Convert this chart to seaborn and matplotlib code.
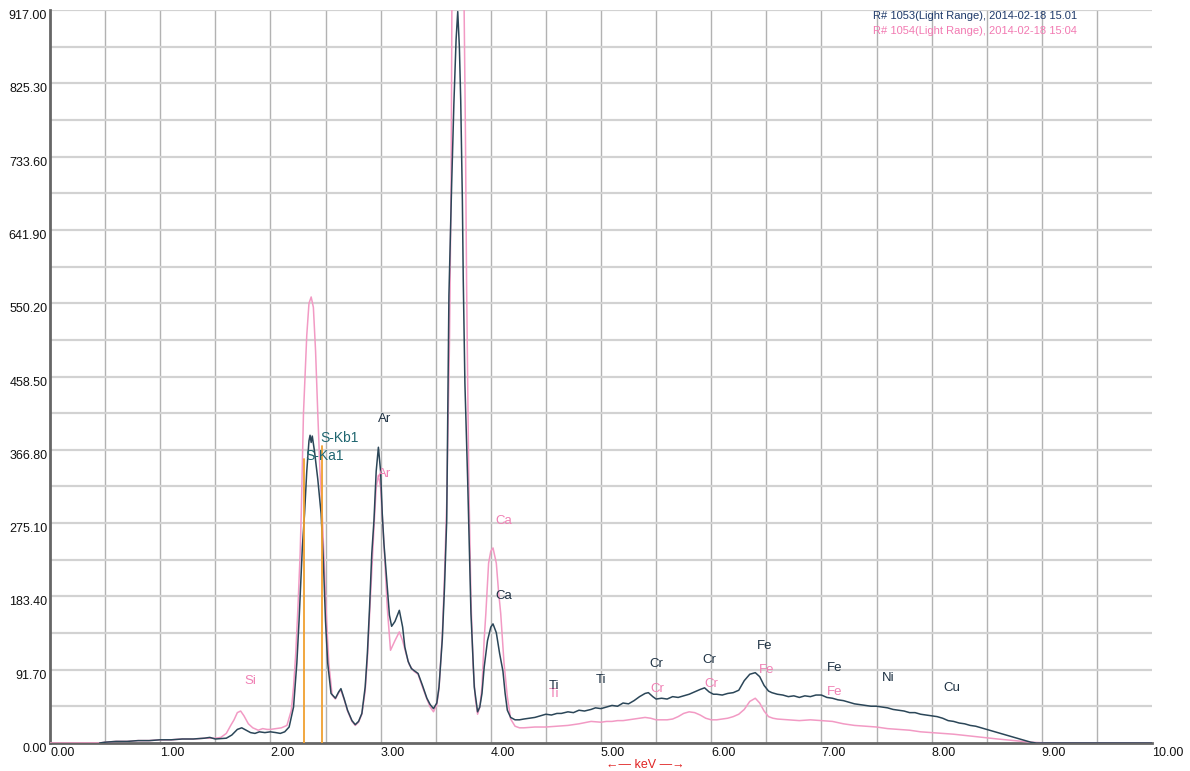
import matplotlib
matplotlib.use("Agg")
import matplotlib.pyplot as plt
import numpy as np
import pandas as pd
import seaborn as sns

# spectrum R# 1053 (dark)
dark_kev = [0.45, 0.50, 0.60, 0.70, 0.80, 0.90, 1.00, 1.10, 1.20, 1.30, 1.40, 1.45, 1.50, 1.60,
            1.65, 1.70, 1.74, 1.78, 1.82, 1.86, 1.90, 1.95, 2.00, 2.05, 2.09, 2.13, 2.17, 2.21,
            2.24, 2.26, 2.29, 2.31, 2.33, 2.35, 2.36, 2.37, 2.38, 2.40, 2.43, 2.46, 2.48, 2.50,
            2.52, 2.55, 2.59, 2.62, 2.64, 2.67, 2.70, 2.74, 2.77, 2.80, 2.83, 2.86, 2.88, 2.90,
            2.92, 2.94, 2.96, 2.98, 3.00, 3.015, 3.03, 3.06, 3.08, 3.10, 3.13, 3.17, 3.20, 3.22,
            3.25, 3.28, 3.31, 3.34, 3.38, 3.42, 3.45, 3.48, 3.51, 3.53, 3.56, 3.58, 3.60, 3.62,
            3.645, 3.665, 3.685, 3.70, 3.715, 3.727, 3.742, 3.75, 3.765, 3.79, 3.82, 3.85, 3.88,
            3.90, 3.92, 3.94, 3.97, 4.00, 4.02, 4.05, 4.08, 4.11, 4.13, 4.15, 4.18, 4.22, 4.26,
            4.30, 4.35, 4.40, 4.45, 4.50, 4.55, 4.60, 4.64, 4.70, 4.75, 4.80, 4.85, 4.91, 4.95,
            5.00, 5.05, 5.10, 5.15, 5.20, 5.25, 5.30, 5.35, 5.40, 5.43, 5.47, 5.50, 5.55, 5.60,
            5.65, 5.70, 5.75, 5.80, 5.85, 5.90, 5.94, 5.98, 6.02, 6.05, 6.10, 6.15, 6.20, 6.25,
            6.30, 6.35, 6.40, 6.44, 6.48, 6.52, 6.55, 6.60, 6.65, 6.70, 6.75, 6.80, 6.85, 6.90,
            6.95, 7.00, 7.05, 7.10, 7.15, 7.20, 7.25, 7.30, 7.35, 7.40, 7.45, 7.50, 7.55, 7.60,
            7.65, 7.70, 7.75, 7.80, 7.85, 7.90, 7.95, 8.00, 8.05, 8.10, 8.15, 8.20, 8.25, 8.30,
            8.35, 8.40, 8.45, 8.50, 8.55, 8.60, 8.65, 8.70, 8.75, 8.80, 8.85, 8.90, 8.95, 9.10,
            10.00]
dark_counts = [0, 1, 2, 2, 3, 3, 4, 4, 5, 5, 6, 7, 5, 6,
               10, 17, 19, 16, 13, 12, 14, 13, 14, 13, 12, 14, 20, 45,
               100, 153, 245, 287, 340, 378, 385, 376, 384, 365, 330, 287, 230, 153,
               100, 62, 56, 64, 68, 55, 41, 28, 23, 27, 37, 70, 112, 170,
               237, 279, 340, 370, 340, 287, 250, 195, 160, 146, 152, 166, 145, 120,
               102, 93, 90, 87, 72, 56, 48, 43, 50, 70, 130, 195, 279, 560,
               700, 800, 880, 915, 870, 804, 679, 580, 450, 329, 162, 70, 39,
               45, 62, 95, 128, 145, 149, 138, 112, 90, 62, 41, 32, 29, 29,
               30, 31, 32, 34, 36, 35, 37, 37, 39, 38, 41, 40, 42, 44,
               43, 45, 47, 46, 50, 49, 53, 58, 62, 63, 58, 55, 56, 55,
               58, 57, 59, 61, 64, 67, 69, 64, 61, 61, 60, 62, 63, 66,
               78, 86, 88, 83, 72, 65, 63, 61, 60, 58, 59, 57, 59, 58,
               60, 60, 57, 56, 54, 53, 51, 49, 48, 47, 46, 46, 45, 44,
               42, 41, 40, 38, 38, 36, 35, 34, 33, 31, 28, 27, 25, 24,
               22, 21, 19, 17, 15, 13, 11, 9, 7, 5, 3, 1, 0, 0,
               0]

# spectrum R# 1054 (pink)
pink_kev = [0.00, 0.45, 0.50, 0.60, 0.70, 0.80, 0.90, 1.00, 1.10, 1.20, 1.30, 1.40, 1.50, 1.55,
            1.60, 1.64, 1.67, 1.70, 1.73, 1.76, 1.80, 1.84, 1.89, 1.93, 1.97, 2.00, 2.05, 2.10,
            2.15, 2.19, 2.21, 2.23, 2.25, 2.27, 2.28, 2.30, 2.33, 2.35, 2.37, 2.39, 2.41, 2.43,
            2.45, 2.47, 2.49, 2.51, 2.53, 2.56, 2.59, 2.62, 2.64, 2.67, 2.70, 2.74, 2.77, 2.80,
            2.83, 2.86, 2.88, 2.90, 2.92, 2.94, 2.96, 2.98, 3.00, 3.03, 3.06, 3.09, 3.13, 3.17,
            3.20, 3.23, 3.26, 3.30, 3.34, 3.38, 3.42, 3.45, 3.48, 3.51, 3.53, 3.56, 3.58, 3.60,
            3.625, 3.64, 3.647, 3.67, 3.70, 3.73, 3.757, 3.77, 3.78, 3.80, 3.82, 3.84, 3.86, 3.88,
            3.90, 3.92, 3.94, 3.955, 3.98, 4.00, 4.02, 4.05, 4.07, 4.09, 4.12, 4.15, 4.18, 4.22,
            4.26, 4.30, 4.40, 4.50, 4.60, 4.70, 4.80, 4.91, 5.00, 5.05, 5.10, 5.15, 5.20, 5.25,
            5.30, 5.35, 5.40, 5.45, 5.50, 5.55, 5.60, 5.65, 5.70, 5.75, 5.80, 5.85, 5.90, 5.95,
            6.00, 6.05, 6.10, 6.15, 6.20, 6.25, 6.30, 6.35, 6.40, 6.44, 6.48, 6.52, 6.56, 6.60,
            6.70, 6.80, 6.90, 7.00, 7.10, 7.20, 7.30, 7.40, 7.50, 7.60, 7.70, 7.80, 7.90, 8.00,
            8.20, 8.40, 8.60, 8.75, 8.90, 9.05, 10.00]
pink_counts = [0, 0, 1, 2, 2, 3, 3, 4, 4, 5, 5, 6, 6, 7,
               12, 22, 29, 38, 40, 34, 24, 19, 16, 18, 17, 17, 18, 19,
               22, 41, 70, 112, 170, 237, 287, 412, 510, 550, 558, 545, 490, 412,
               340, 287, 220, 153, 100, 60, 55, 63, 66, 54, 40, 27, 22, 26,
               36, 65, 105, 160, 215, 270, 320, 335, 320, 250, 170, 116, 128, 139,
               128, 112, 98, 90, 86, 70, 55, 45, 39, 48, 68, 135, 210, 300,
               500, 700, 930, 1100, 1150, 1080, 930, 760, 580, 330, 180, 95, 55, 36,
               45, 70, 130, 162, 225, 240, 244, 225, 190, 162, 100, 58, 30, 21,
               19, 19, 20, 20, 21, 22, 24, 27, 26, 27, 27, 28, 28, 29,
               30, 31, 32, 31, 29, 29, 29, 30, 33, 37, 39, 38, 35, 31,
               29, 29, 30, 31, 33, 36, 42, 52, 56, 50, 40, 33, 31, 30,
               29, 28, 29, 28, 27, 24, 22, 21, 20, 18, 17, 16, 14, 13,
               11, 8, 5, 3, 1, 0, 0]

x_tick_labels = ["0.00", "1.00", "2.00", "3.00", "4.00", "5.00", "6.00", "7.00", "8.00", "9.00", "10.00"]
y_tick_labels = ["0.00", "91.70", "183.40", "275.10", "366.80", "458.50", "550.20",
                 "641.90", "733.60", "825.30", "917.00"]

# sulfur marker lines and peak labels
marker_kev = [2.307, 2.464]
marker_top = [355, 372]
dark_labels = ["Ar", "Ca", "Ti", "Ti", "Cr", "Cr", "Fe", "Fe", "Ni", "Cu"]
dark_label_kev = [2.98, 4.04, 4.53, 4.95, 5.44, 5.92, 6.41, 7.05, 7.55, 8.11]
dark_label_counts = [405, 184, 71, 79, 99, 104, 121, 94, 81, 69]
pink_labels = ["Si", "Ar", "Ca", "Ti", "Cr", "Cr", "Fe", "Fe"]
pink_label_kev = [1.76, 2.98, 4.04, 4.53, 5.45, 5.94, 6.43, 7.05]
pink_label_counts = [78, 337, 278, 61, 68, 74, 91, 64]
s_labels = ["S-Kb1", "S-Ka1"]
s_label_kev = [2.455, 2.32]
s_label_counts = [381, 359]

DARK = "#2b4658"
PINK = "#f29ac4"

sns.set_theme(style="white")
plt.rcParams["font.family"] = ["Liberation Sans", "DejaVu Sans"]

fig = plt.figure(figsize=(11.9, 7.71), dpi=100)
ax = fig.add_axes([50 / 1190, 28 / 771, 1102 / 1190, 733 / 771])

ymax = 917.0
for xv in np.arange(0.5, 10.0, 0.5):
    ax.axvline(xv, color="#b2b2b2", linewidth=1.0, zorder=0)
for yv in np.arange(1, 21) * ymax / 20:
    ax.axhline(yv, color="#d2d2d2", linewidth=1.6, zorder=0)

df_pink = pd.DataFrame({"keV": pink_kev, "counts": pink_counts})
df_dark = pd.DataFrame({"keV": dark_kev, "counts": dark_counts})
sns.lineplot(data=df_pink, x="keV", y="counts", ax=ax, color=PINK, linewidth=1.1,
             estimator=None, sort=False, zorder=3)
sns.lineplot(data=df_dark, x="keV", y="counts", ax=ax, color=DARK, linewidth=1.1,
             estimator=None, sort=False, zorder=4)

for kev, top in zip(marker_kev, marker_top):
    ax.plot([kev, kev], [0, top], color="#f0a030", linewidth=1.3, zorder=5)

for t, xk, yc in zip(pink_labels, pink_label_kev, pink_label_counts):
    ax.text(xk, yc, t, color="#f080b4", fontsize=9.5, ha="left", va="center", zorder=6)
for t, xk, yc in zip(dark_labels, dark_label_kev, dark_label_counts):
    ax.text(xk, yc, t, color="#1e3244", fontsize=9.5, ha="left", va="center", zorder=6)
for t, xk, yc in zip(s_labels, s_label_kev, s_label_counts):
    ax.text(xk, yc, t, color="#1f6670", fontsize=10, ha="left", va="center", zorder=6)

ax.set_xlim(0, 10)
ax.set_ylim(0, ymax)
ax.set_xticks(np.arange(11))
ax.set_xticklabels(x_tick_labels)
ax.set_yticks(np.arange(11) * ymax / 10)
ax.set_yticklabels(y_tick_labels)
ax.set_xlabel("")
ax.set_ylabel("")
ax.tick_params(axis="both", direction="in", length=8, width=1.5, color="#555555",
               labelsize=9, labelcolor="#111111")
ax.tick_params(axis="x", pad=3)
ax.tick_params(axis="y", pad=2)
for lab in ax.get_xticklabels():
    lab.set_horizontalalignment("left")
for lab in ax.get_yticklabels():
    lab.set_verticalalignment("top")

for side in ["top", "right"]:
    ax.spines[side].set_visible(False)
for side in ["left", "bottom"]:
    ax.spines[side].set_color("#666666")
    ax.spines[side].set_linewidth(2)

fig.text(873 / 1190, 1 - 16 / 771, "R# 1053(Light Range), 2014-02-18 15.01",
         color="#1f3a6a", fontsize=8, ha="left", va="center")
fig.text(873 / 1190, 1 - 31 / 771, "R# 1054(Light Range), 2014-02-18 15:04",
         color="#f27ab2", fontsize=8, ha="left", va="center")
fig.text(645 / 1190, 1 - 765.5 / 771, "\u2190\u2014 keV \u2014\u2192", color="#e02424",
         fontsize=9, ha="center", va="center")

fig.savefig("out.png", dpi=100, facecolor="white")
plt.close(fig)
